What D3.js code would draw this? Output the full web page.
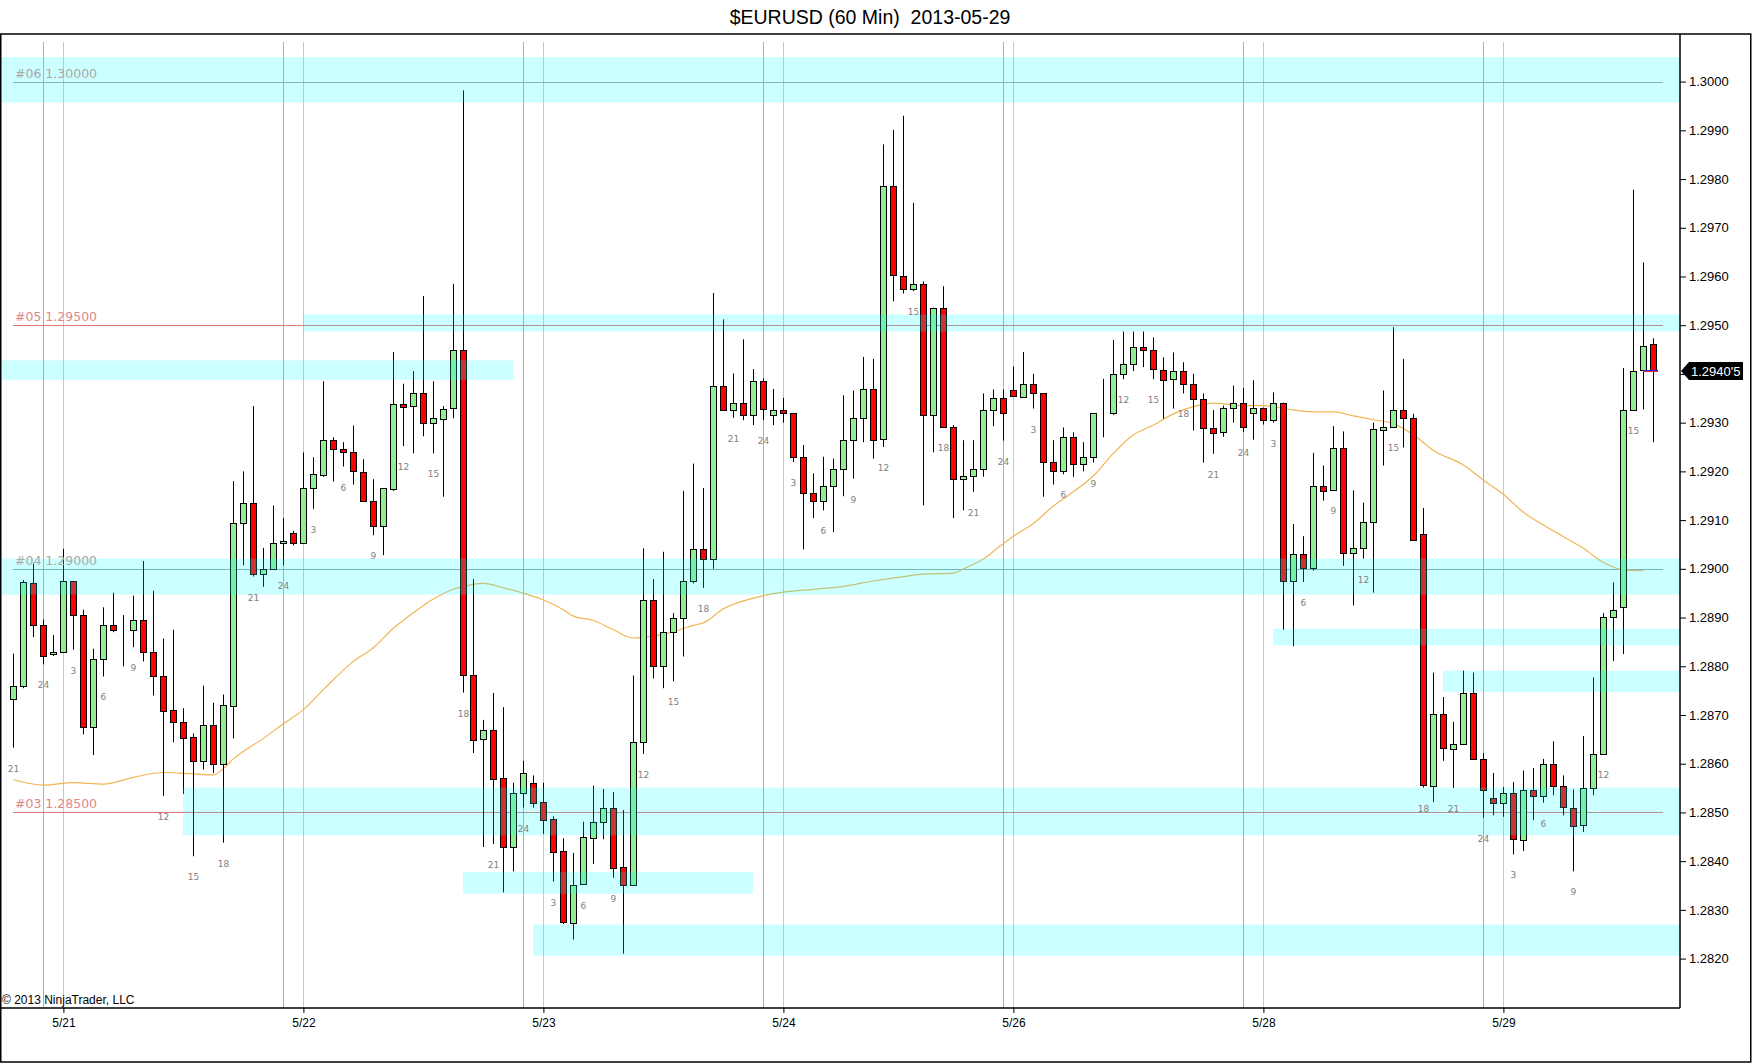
<!DOCTYPE html>
<html>
<head>
<meta charset="utf-8">
<script src="https://cdn.jsdelivr.net/npm/d3@7"></script>
<style>
  body { margin: 0; background: #fff; }
  svg { display: block; }
</style>
</head>
<body>
<svg id="chart" width="1752" height="1064"></svg>
<script>
// 60 min bars, index 0 = first bar on the left
var opens = [1.28734,1.28759,1.28971,1.28885,1.28825,1.28829,1.28975,1.28905,1.28675,1.28815,
  1.28885,1.28875,1.28875,1.28895,1.28829,1.28781,1.28710,1.28686,1.28655,1.28605,
  1.28679,1.28599,1.28719,1.29094,1.29135,1.28989,1.28999,1.29053,1.29074,1.29053,
  1.29166,1.29193,1.29264,1.29245,1.29239,1.29199,1.29139,1.29088,1.29164,1.29339,
  1.29333,1.29360,1.29299,1.29309,1.29329,1.29449,1.28783,1.28652,1.28670,1.28570,
  1.28429,1.28540,1.28561,1.28521,1.28487,1.28421,1.28275,1.28352,1.28449,1.28481,
  1.28510,1.28387,1.28351,1.28645,1.28936,1.28801,1.28871,1.28900,1.28975,1.29041,
  1.29020,1.29376,1.29327,1.29341,1.29316,1.29385,1.29316,1.29326,1.29320,1.29230,
  1.29156,1.29139,1.29170,1.29205,1.29265,1.29310,1.29369,1.29265,1.29785,1.29602,
  1.29575,1.29585,1.29316,1.29536,1.29291,1.29185,1.29189,1.29204,1.29326,1.29350,
  1.29368,1.29353,1.29379,1.29360,1.29219,1.29200,1.29270,1.29214,1.29229,1.29319,
  1.29319,1.29400,1.29420,1.29455,1.29449,1.29409,1.29389,1.29406,1.29379,1.29349,
  1.29290,1.29281,1.29331,1.29341,1.29321,1.29331,1.29306,1.29341,1.28976,1.29031,
  1.29002,1.29171,1.29161,1.29247,1.29031,1.29042,1.29096,1.29286,1.29292,1.29327,
  1.29310,1.29071,1.28555,1.28702,1.28631,1.28641,1.28746,1.28610,1.28530,1.28520,
  1.28540,1.28445,1.28547,1.28535,1.28600,1.28554,1.28510,1.28474,1.28550,1.28620,
  1.28901,1.28922,1.29327,1.29407,1.29461];
var highs = [1.28826,1.28977,1.29011,1.28896,1.28864,1.29041,1.28975,1.28916,1.28836,1.28921,
  1.28951,1.28905,1.28945,1.29016,1.28955,1.28857,1.28875,1.28714,1.28662,1.28760,
  1.28725,1.28742,1.29180,1.29200,1.29334,1.29043,1.29130,1.29104,1.29078,1.29239,
  1.29229,1.29385,1.29270,1.29260,1.29294,1.29225,1.29184,1.29166,1.29445,1.29380,
  1.29406,1.29560,1.29385,1.29334,1.29585,1.29982,1.28979,1.28690,1.28745,1.28716,
  1.28561,1.28606,1.28576,1.28561,1.28492,1.28447,1.28417,1.28481,1.28555,1.28548,
  1.28542,1.28505,1.28781,1.29042,1.28979,1.29035,1.28909,1.29160,1.29216,1.29166,
  1.29566,1.29512,1.29401,1.29471,1.29410,1.29391,1.29369,1.29351,1.29320,1.29254,
  1.29196,1.29230,1.29226,1.29356,1.29366,1.29435,1.29431,1.29871,1.29901,1.29930,
  1.29751,1.29590,1.29536,1.29580,1.29295,1.29264,1.29264,1.29360,1.29368,1.29368,
  1.29415,1.29445,1.29400,1.29360,1.29264,1.29290,1.29280,1.29260,1.29319,1.29390,
  1.29470,1.29487,1.29487,1.29487,1.29475,1.29434,1.29444,1.29424,1.29400,1.29360,
  1.29326,1.29335,1.29376,1.29371,1.29387,1.29331,1.29362,1.29341,1.29092,1.29067,
  1.29238,1.29212,1.29293,1.29282,1.29161,1.29136,1.29300,1.29366,1.29496,1.29431,
  1.29318,1.29125,1.28787,1.28737,1.28686,1.28791,1.28787,1.28622,1.28581,1.28552,
  1.28562,1.28586,1.28591,1.28610,1.28646,1.28576,1.28547,1.28657,1.28777,1.28909,
  1.28972,1.29412,1.29778,1.29629,1.29473];
var lows = [1.28633,1.28755,1.28860,1.28804,1.28821,1.28829,1.28834,1.28660,1.28618,1.28779,
  1.28870,1.28800,1.28839,1.28810,1.28740,1.28534,1.28644,1.28538,1.28410,1.28588,
  1.28581,1.28438,1.28652,1.29007,1.28984,1.28963,1.28999,1.29007,1.29048,1.29053,
  1.29123,1.29189,1.29179,1.29210,1.29173,1.29137,1.29069,1.29028,1.29160,1.29252,
  1.29237,1.29272,1.29237,1.29148,1.29309,1.28746,1.28622,1.28429,1.28435,1.28336,
  1.28379,1.28510,1.28510,1.28456,1.28358,1.28271,1.28239,1.28352,1.28394,1.28445,
  1.28366,1.28210,1.28351,1.28620,1.28775,1.28755,1.28769,1.28820,1.28970,1.28961,
  1.29000,1.29327,1.29310,1.29305,1.29295,1.29305,1.29295,1.29300,1.29219,1.29040,
  1.29104,1.29120,1.29075,1.29149,1.29185,1.29260,1.29226,1.29250,1.29549,1.29565,
  1.29570,1.29130,1.29239,1.29291,1.29104,1.29120,1.29158,1.29189,1.29293,1.29263,
  1.29355,1.29353,1.29329,1.29148,1.29173,1.29194,1.29189,1.29200,1.29218,1.29270,
  1.29316,1.29389,1.29406,1.29414,1.29389,1.29308,1.29329,1.29360,1.29284,1.29218,
  1.29236,1.29271,1.29300,1.29281,1.29265,1.29296,1.29300,1.28875,1.28841,1.28973,
  1.28996,1.29140,1.29161,1.29006,1.28925,1.29021,1.28951,1.29212,1.29292,1.29249,
  1.29060,1.28551,1.28521,1.28606,1.28550,1.28641,1.28610,1.28489,1.28494,1.28491,
  1.28414,1.28421,1.28484,1.28520,1.28535,1.28494,1.28379,1.28460,1.28535,1.28620,
  1.28811,1.28825,1.29327,1.29327,1.29260];
var closes = [1.28760,1.28973,1.28885,1.28821,1.28829,1.28975,1.28905,1.28675,1.28815,1.28885,
  1.28875,1.28875,1.28895,1.28829,1.28779,1.28710,1.28686,1.28654,1.28605,1.28679,
  1.28599,1.28721,1.29094,1.29135,1.28989,1.28999,1.29053,1.29057,1.29053,1.29166,
  1.29194,1.29264,1.29245,1.29239,1.29199,1.29139,1.29088,1.29166,1.29339,1.29333,
  1.29360,1.29299,1.29309,1.29329,1.29449,1.28782,1.28650,1.28670,1.28570,1.28429,
  1.28540,1.28581,1.28519,1.28485,1.28420,1.28275,1.28352,1.28449,1.28481,1.28510,
  1.28387,1.28351,1.28645,1.28936,1.28801,1.28871,1.28900,1.28975,1.29041,1.29020,
  1.29375,1.29327,1.29341,1.29316,1.29385,1.29327,1.29326,1.29320,1.29230,1.29156,
  1.29139,1.29170,1.29205,1.29265,1.29310,1.29369,1.29265,1.29785,1.29602,1.29575,
  1.29585,1.29316,1.29536,1.29291,1.29185,1.29191,1.29204,1.29326,1.29350,1.29319,
  1.29355,1.29379,1.29360,1.29219,1.29200,1.29270,1.29214,1.29229,1.29319,1.29319,
  1.29400,1.29420,1.29455,1.29448,1.29409,1.29389,1.29406,1.29379,1.29349,1.29290,
  1.29280,1.29331,1.29341,1.29292,1.29331,1.29306,1.29341,1.28976,1.29031,1.29002,
  1.29171,1.29161,1.29247,1.29031,1.29042,1.29096,1.29286,1.29292,1.29327,1.29310,
  1.29060,1.28555,1.28702,1.28632,1.28641,1.28746,1.28610,1.28547,1.28520,1.28540,
  1.28445,1.28547,1.28535,1.28600,1.28554,1.28510,1.28474,1.28550,1.28620,1.28901,
  1.28916,1.29327,1.29407,1.29457,1.29405];

// moving average (bar index, value)
var maBars = [0,3,6,9,12,15,18,20,21,22,23,25,27,29,31,34,36,38,40,42,44,46,47,49,51,53,55,56,58,60,
  62,64,66,68,69,71,74,77,80,83,86,89,91,94,95,97,99,100,102,104,106,108,110,112,114,116,118,120,
  123,125,127,130,132,134,136,138,140,142,145,147,149,151,153,155,157,159,161,163];
var maValues = [1.28567,1.28556,1.28561,1.28558,1.28572,1.28582,1.28579,1.28577,1.28590,1.28610,
  1.28625,1.28652,1.28682,1.28711,1.28752,1.28810,1.28838,1.28878,1.28910,1.28938,1.28958,1.28968,
  1.28970,1.28961,1.28950,1.28936,1.28916,1.28903,1.28894,1.28875,1.28858,1.28862,1.28871,1.28884,
  1.28889,1.28918,1.28940,1.28952,1.28958,1.28964,1.28975,1.28984,1.28989,1.28991,1.29000,1.29020,
  1.29052,1.29067,1.29093,1.29129,1.29158,1.29191,1.29237,1.29275,1.29295,1.29318,1.29333,1.29340,
  1.29335,1.29335,1.29329,1.29322,1.29322,1.29314,1.29306,1.29298,1.29275,1.29243,1.29213,1.29182,
  1.29153,1.29116,1.29090,1.29066,1.29042,1.29013,1.28998,1.28996];

// hour labels printed under every third bar, starting at bar 0
var hourLabels = [21,24,3,6,9,12,15,18, 21,24,3,6,9,12,15,18, 21,24,3,6,9,12,15,18,
  21,24,3,6,9,12,15,18, 21,24,3,6,9,12,15,18, 21,24,3,6,9,12,15,18, 21,24,3,6,9,12,15];

// day labels on the time axis and the session lines
var dayLabels = ["5/21","5/22","5/23","5/24","5/26","5/28","5/29"];
var dayBars = [5,29,53,77,100,125,149];
var sessionBars = [3,27,51,75,99,123,147];

var priceTicks = [1.2820,1.2830,1.2840,1.2850,1.2860,1.2870,1.2880,1.2890,1.2900,1.2910,
  1.2920,1.2930,1.2940,1.2950,1.2960,1.2970,1.2980,1.2990,1.3000];

// drawn price levels
var levelNames = ["#06","#05","#04","#03"];
var levelPrices = [1.3000,1.2950,1.2900,1.2850];

// zones: top price, bottom price, first bar (null = left edge), last bar (null = right edge)
var zoneTops = [1.30050,1.29522,1.29428,1.29021,1.28551,1.28378,1.28270,1.28877,1.28791];
var zoneBottoms = [1.29957,1.29487,1.29388,1.28947,1.28453,1.28333,1.28206,1.28843,1.28747];
var zoneStarts = [null,29,null,null,17,45,52,126,143];
var zoneEnds = [null,null,50,null,null,74,null,null,null];

var lastPriceText = "1.2940'5";

// ---------------------------------------------------------------
var svg = d3.select("#chart");
var plotRight = 1680, plotTop = 35, plotBottom = 1008;
var n = opens.length;

var x = d3.scaleLinear().domain([0, n - 1]).range([13.4, 13.4 + 10 * (n - 1)]);
var y = d3.scaleLinear().domain([1.2820, 1.3000]).range([958.6, 81.6]);
var px = function(i) { return Math.round(x(i)); };

svg.append("rect").attr("width", 1752).attr("height", 1064).attr("fill", "#fff");

svg.append("defs").append("clipPath").attr("id", "plotclip")
  .append("rect").attr("x", 0).attr("y", plotTop).attr("width", plotRight).attr("height", plotBottom - plotTop);

var g = svg.append("g").attr("clip-path", "url(#plotclip)");

// session / day lines
g.selectAll("line.session").data(sessionBars).join("line")
  .attr("x1", function(d){ return px(d) + 0.5; }).attr("x2", function(d){ return px(d) + 0.5; })
  .attr("y1", 42).attr("y2", plotBottom)
  .attr("stroke", "#f5a623").attr("stroke-width", 1);
g.selectAll("line.day").data(dayBars).join("line")
  .attr("x1", function(d){ return px(d) + 0.5; }).attr("x2", function(d){ return px(d) + 0.5; })
  .attr("y1", 42).attr("y2", plotBottom)
  .attr("stroke", "#c8c8c8").attr("stroke-width", 1);

// price level lines
var levelColors = ["#a8a0a0", "#e07878", "#90a8a8", "#e07878"];
g.selectAll("line.level").data(levelPrices).join("line")
  .attr("x1", px(0)).attr("x2", px(n))
  .attr("y1", function(d){ return Math.round(y(d)) + 0.5; })
  .attr("y2", function(d){ return Math.round(y(d)) + 0.5; })
  .attr("stroke", function(d, i){ return levelColors[i]; }).attr("stroke-width", 1);

// moving average
var ma = d3.line()
  .x(function(d, i){ return x(maBars[i]); })
  .y(function(d){ return y(d); })
  .curve(d3.curveMonotoneX);
g.append("path").datum(maValues)
  .attr("d", ma).attr("fill", "none")
  .attr("stroke", "#f2b552").attr("stroke-width", 1.2);

// candles
var idx = d3.range(n);
g.selectAll("line.wick").data(idx).join("line")
  .attr("x1", function(i){ return px(i) + 0.5; }).attr("x2", function(i){ return px(i) + 0.5; })
  .attr("y1", function(i){ return y(highs[i]); }).attr("y2", function(i){ return y(lows[i]); })
  .attr("stroke", "#000").attr("stroke-width", 1);

g.selectAll("rect.body").data(idx).join("rect")
  .attr("x", function(i){ return px(i) - 2.5; })
  .attr("width", 6)
  .attr("y", function(i){ return Math.round(y(Math.max(opens[i], closes[i]))) + 0.5; })
  .attr("height", function(i){
    return Math.max(0, Math.round(Math.abs(y(opens[i]) - y(closes[i]))));
  })
  .attr("fill", function(i){ return closes[i] >= opens[i] ? "#90ee90" : "#ff0000"; })
  .attr("stroke", "#000").attr("stroke-width", 1);

// zones, drawn over the bars
g.selectAll("rect.zone").data(zoneTops).join("rect")
  .attr("x", function(d, i){ return zoneStarts[i] === null ? 0 : px(zoneStarts[i]); })
  .attr("width", function(d, i){
    var a = zoneStarts[i] === null ? 0 : px(zoneStarts[i]);
    var b = zoneEnds[i] === null ? plotRight : px(zoneEnds[i]);
    return b - a;
  })
  .attr("y", function(d){ return y(d); })
  .attr("height", function(d, i){ return y(zoneBottoms[i]) - y(d); })
  .attr("fill", "#00ffff").attr("fill-opacity", 0.2);

// level labels
var labelColors = ["#a8a8a8", "#e08888", "#a8a8a8", "#e08888"];
g.selectAll("text.level").data(levelPrices).join("text")
  .attr("x", 15).attr("y", function(d){ return y(d) - 4; })
  .attr("font-family", "'DejaVu Sans', Verdana, sans-serif").attr("font-size", 12.5)
  .attr("fill", function(d, i){ return labelColors[i]; })
  .text(function(d, i){ return levelNames[i] + " " + d.toFixed(5); });

// hour labels under bars
g.selectAll("text.hour").data(hourLabels).join("text")
  .attr("x", function(d, k){ return x(k * 3); })
  .attr("y", function(d, k){ return y(lows[k * 3]) + 24; })
  .attr("text-anchor", "middle")
  .attr("font-family", "'DejaVu Sans', Verdana, sans-serif").attr("font-size", 9)
  .attr("fill", "#808080")
  .text(function(d){ return d; });

// last close markers
var lastY = Math.round(y(closes[n - 1]));
g.append("line").attr("x1", px(n - 2)).attr("x2", px(n - 1) + 5)
  .attr("y1", lastY - 0.5).attr("y2", lastY - 0.5).attr("stroke", "#2020ff");
g.append("line").attr("x1", px(n - 2)).attr("x2", px(n - 1) + 5)
  .attr("y1", lastY + 0.5).attr("y2", lastY + 0.5).attr("stroke", "#ff2020");

// price axis; the tick label hidden under the last price tag is left blank
var yAxis = d3.axisRight(y).tickValues(priceTicks)
  .tickFormat(function(d){
    return Math.abs(y(d) - lastY) < 14 ? "" : d3.format(".4f")(d);
  }).tickSize(6).tickPadding(3);
var ya = svg.append("g").attr("transform", "translate(" + plotRight + ",0)").call(yAxis);
ya.select(".domain").remove();
ya.selectAll("text").attr("font-family", "'Liberation Sans', Arial, sans-serif")
  .attr("font-size", 13).attr("fill", "#000");

// time axis
var xAxis = d3.axisBottom(x).tickValues(dayBars)
  .tickFormat(function(d, i){ return dayLabels[i]; }).tickSize(5).tickPadding(5);
var xa = svg.append("g").attr("transform", "translate(0," + plotBottom + ")").call(xAxis);
xa.select(".domain").remove();
xa.selectAll("text").attr("font-family", "'Liberation Sans', Arial, sans-serif")
  .attr("font-size", 12).attr("fill", "#000");

// axis lines and frame
svg.append("line").attr("x1", 0).attr("x2", plotRight).attr("y1", plotBottom).attr("y2", plotBottom)
  .attr("stroke", "#000").attr("stroke-width", 1.5);
svg.append("line").attr("x1", plotRight).attr("x2", plotRight).attr("y1", 34).attr("y2", plotBottom)
  .attr("stroke", "#000").attr("stroke-width", 1.5);
svg.append("rect").attr("x", 0.75).attr("y", 34).attr("width", 1750).attr("height", 1028)
  .attr("fill", "none").attr("stroke", "#000").attr("stroke-width", 1.5);

// last price tag
var tag = svg.append("g").attr("transform", "translate(" + (plotRight + 1) + "," + lastY + ")");
tag.append("path").attr("d", "M0,0 L8,-9 L62,-9 L62,9 L8,9 Z").attr("fill", "#000");
tag.append("text").attr("x", 10).attr("y", 0).attr("dy", "0.35em")
  .attr("font-family", "'Liberation Sans', Arial, sans-serif").attr("font-size", 13)
  .attr("fill", "#fff").text(lastPriceText);

// title and copyright
svg.append("text").attr("x", 870).attr("y", 24).attr("text-anchor", "middle")
  .attr("font-family", "'Liberation Sans', Arial, sans-serif").attr("font-size", 19.5)
  .attr("fill", "#000").attr("xml:space", "preserve")
  .style("white-space", "pre")
  .text("$EURUSD (60 Min)  2013-05-29");
svg.append("text").attr("x", 2).attr("y", 1004)
  .attr("font-family", "'Liberation Sans', Arial, sans-serif").attr("font-size", 12)
  .attr("fill", "#000").text("\u00a9 2013 NinjaTrader, LLC");
</script>
</body>
</html>
